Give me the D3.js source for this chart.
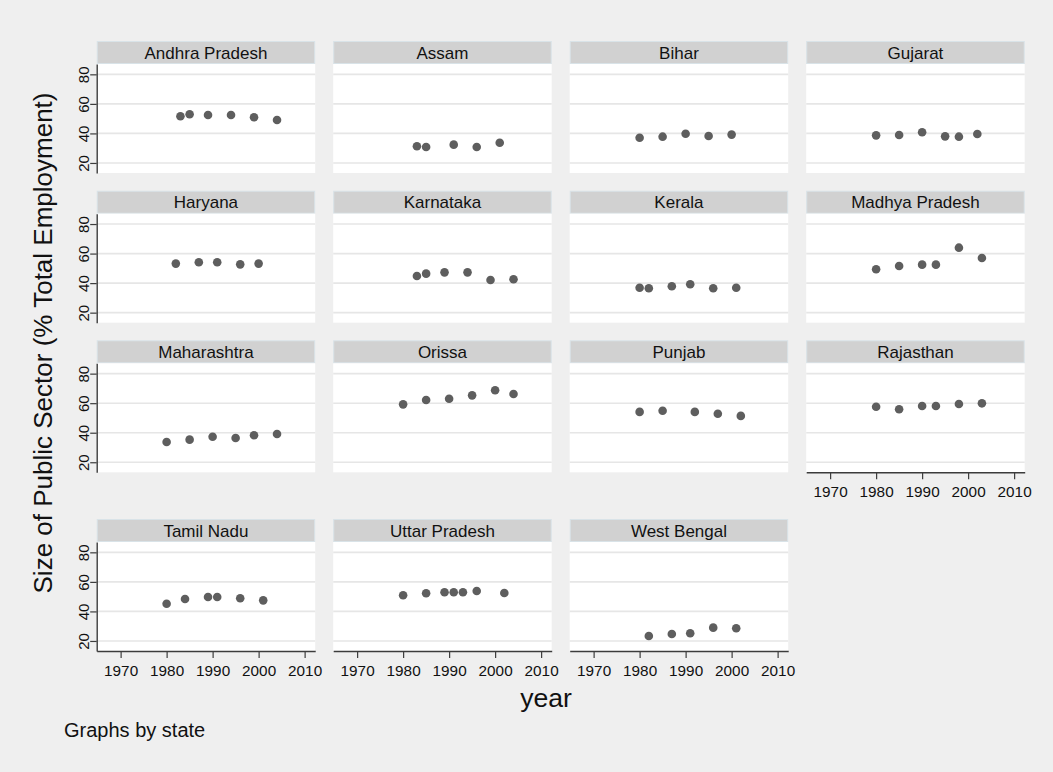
<!DOCTYPE html>
<html>
<head>
<meta charset="utf-8">
<script src="https://cdn.jsdelivr.net/npm/d3@7/dist/d3.min.js"></script>
<style>
  html, body { margin: 0; padding: 0; background: #efefef; }
  svg { display: block; font-family: "Liberation Sans", Arial, Helvetica, sans-serif; }
</style>
</head>
<body>
<svg id="chart" width="1053" height="772"></svg>
<script>
// Public sector share of total employment by Indian state and survey year
const states = ["Andhra Pradesh", "Assam", "Bihar", "Gujarat", "Haryana", "Karnataka",
  "Kerala", "Madhya Pradesh", "Maharashtra", "Orissa", "Punjab", "Rajasthan",
  "Tamil Nadu", "Uttar Pradesh", "West Bengal"];

const surveyYears = [
  [1983, 1985, 1989, 1994, 1999, 2004],
  [1983, 1985, 1991, 1996, 2001],
  [1980, 1985, 1990, 1995, 2000],
  [1980, 1985, 1990, 1995, 1998, 2002],
  [1982, 1987, 1991, 1996, 2000],
  [1983, 1985, 1989, 1994, 1999, 2004],
  [1980, 1982, 1987, 1991, 1996, 2001],
  [1980, 1985, 1990, 1993, 1998, 2003],
  [1980, 1985, 1990, 1995, 1999, 2004],
  [1980, 1985, 1990, 1995, 2000, 2004],
  [1980, 1985, 1992, 1997, 2002],
  [1980, 1985, 1990, 1993, 1998, 2003],
  [1980, 1984, 1989, 1991, 1996, 2001],
  [1980, 1985, 1989, 1991, 1993, 1996, 2002],
  [1982, 1987, 1991, 1996, 2001]
];

const publicShare = [
  [51.6, 53.0, 52.5, 52.5, 50.9, 49.1],
  [31.3, 30.8, 32.4, 30.8, 33.7],
  [37.1, 37.8, 39.8, 38.3, 39.2],
  [38.7, 38.9, 40.8, 38.0, 37.8, 39.6],
  [53.2, 54.1, 54.1, 52.7, 53.2],
  [44.8, 46.4, 47.3, 47.3, 42.1, 42.6],
  [36.9, 36.5, 37.9, 39.2, 36.5, 36.9],
  [49.4, 51.6, 52.5, 52.5, 64.0, 57.0],
  [33.7, 35.3, 37.3, 36.4, 38.3, 39.1],
  [59.2, 62.2, 63.0, 65.3, 68.8, 66.2],
  [54.1, 54.9, 54.1, 52.8, 51.4],
  [57.6, 55.9, 58.1, 58.1, 59.4, 59.9],
  [45.2, 48.4, 49.8, 49.8, 48.9, 47.5],
  [50.9, 52.3, 53.0, 53.0, 53.0, 53.8, 52.5],
  [23.4, 24.7, 25.2, 29.0, 28.6]
];

const yearTicks = [1970, 1980, 1990, 2000, 2010];
const shareTicks = [20, 40, 60, 80];

const yTitle = "Size of Public Sector (% Total Employment)";
const xTitle = "year";
const note = "Graphs by state";

// ---- layout ----
const nCols = 4;
const panelW = 218.5, plotH = 109, headH = 23;
const colLeft = c => 96.7 + c * 236.5;
const rowPlotTop = [64, 213.7, 363.3, 542];

const svg = d3.select("#chart");
svg.append("rect").attr("width", 1053).attr("height", 772).attr("fill", "#efefef");

const x = d3.scaleLinear().domain([1964.8, 2012.3]).range([0, panelW]);
const y = d3.scaleLinear().domain([13.2, 87.0]).range([plotH, 0]);

const axisColor = "#3c3c3c";

states.forEach((name, i) => {
  const c = i % nCols, r = Math.floor(i / nCols);
  const g = svg.append("g").attr("transform", `translate(${colLeft(c)},${rowPlotTop[r]})`);

  // strip header
  g.append("rect")
    .attr("x", 0.5).attr("y", -headH + 0.5)
    .attr("width", panelW - 1).attr("height", headH - 1)
    .attr("fill", "#d1d1d1").attr("stroke", "#d9e3e8").attr("stroke-width", 1);
  g.append("text")
    .attr("x", panelW / 2).attr("y", -headH / 2)
    .attr("dy", "0.36em")
    .attr("text-anchor", "middle")
    .attr("font-size", 17).attr("fill", "#111")
    .text(name);

  // plot region
  g.append("rect").attr("width", panelW).attr("height", plotH).attr("fill", "#ffffff");

  // horizontal grid
  g.selectAll("line.grid").data(shareTicks).join("line")
    .attr("class", "grid")
    .attr("x1", 0).attr("x2", panelW)
    .attr("y1", d => y(d)).attr("y2", d => y(d))
    .attr("stroke", "#e6e6e6").attr("stroke-width", 1.6);

  // points
  const pts = surveyYears[i].map((yr, k) => ({ yr, v: publicShare[i][k] }));
  g.selectAll("circle").data(pts).join("circle")
    .attr("cx", d => x(d.yr)).attr("cy", d => y(d.v))
    .attr("r", 4.3).attr("fill", "#5e5e5e");

  // y axis on the first column
  if (c === 0) {
    const ya = g.append("g")
      .call(d3.axisLeft(y).tickValues(shareTicks).tickSize(6.5).tickSizeOuter(0));
    ya.select(".domain").attr("stroke", axisColor).attr("stroke-width", 1.4);
    ya.selectAll(".tick line").attr("stroke", axisColor).attr("stroke-width", 1.2);
    ya.selectAll(".tick text")
      .attr("transform", "rotate(-90)")
      .attr("x", 0).attr("y", -7.6).attr("dy", 0)
      .attr("text-anchor", "middle")
      .attr("font-size", 15).attr("fill", "#111")
      .attr("font-family", "Liberation Sans, Arial, sans-serif");
  }

  // x axis where no panel sits below
  if (i + nCols >= states.length) {
    const xa = g.append("g").attr("transform", `translate(0,${plotH})`)
      .call(d3.axisBottom(x).tickValues(yearTicks).tickFormat(d3.format("d"))
        .tickSize(7).tickSizeOuter(0).tickPadding(7));
    xa.select(".domain").attr("stroke", axisColor).attr("stroke-width", 1.4);
    xa.selectAll(".tick line").attr("stroke", axisColor).attr("stroke-width", 1.2);
    xa.selectAll(".tick text")
      .attr("font-size", 15.3).attr("fill", "#111")
      .attr("font-family", "Liberation Sans, Arial, sans-serif");
  }
});

// axis titles and note
svg.append("text")
  .attr("transform", "translate(52,343) rotate(-90)")
  .attr("text-anchor", "middle")
  .attr("font-size", 26).attr("fill", "#111")
  .text(yTitle);

svg.append("text")
  .attr("x", 546).attr("y", 707)
  .attr("text-anchor", "middle")
  .attr("font-size", 26.6).attr("fill", "#111")
  .text(xTitle);

svg.append("text")
  .attr("x", 64).attr("y", 737)
  .attr("font-size", 20).attr("fill", "#111")
  .text(note);
</script>
</body>
</html>
